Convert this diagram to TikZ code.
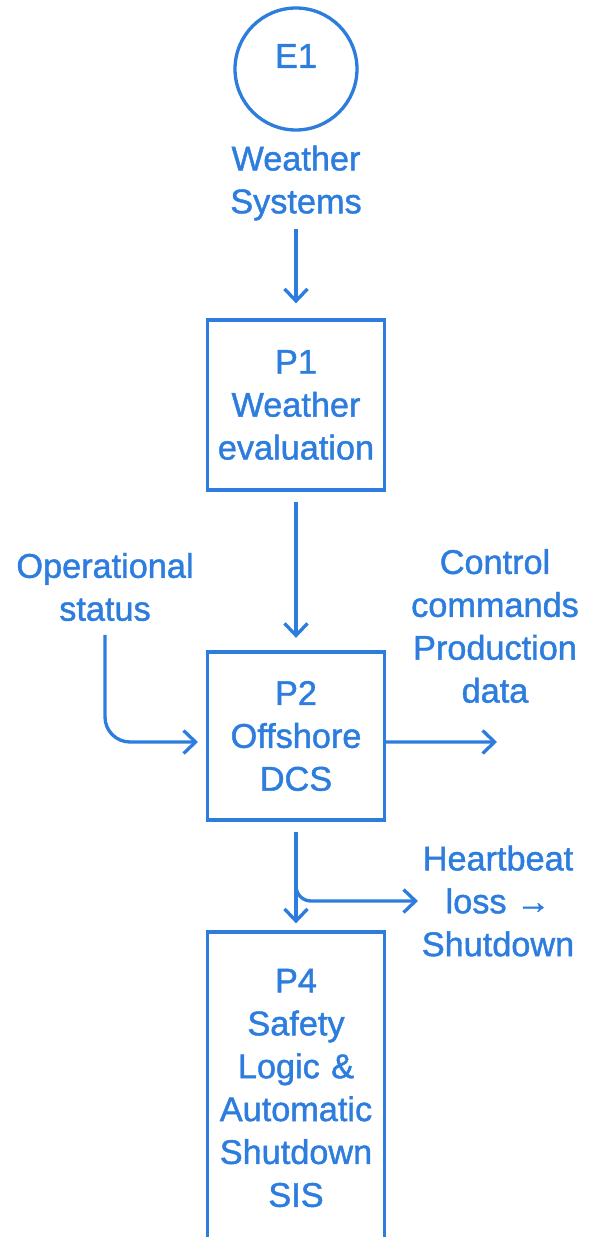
\documentclass[tikz,border=0pt]{standalone}
\usepackage{fontspec}
\setmainfont{Liberation Sans}[FakeBold=1.3]
\usetikzlibrary{arrows.meta}
\usetikzlibrary{shapes}
\definecolor{dfdblue}{RGB}{45,125,222}

\begin{document}
\begin{tikzpicture}[node distance = 2cm, auto, every node/.style={text=dfdblue, font=\fontsize{19.5}{24.4}\selectfont}]
    \tikzstyle{entity}   = [circle, draw=dfdblue, line width=1.9pt, minimum size=2.44cm, inner sep=0pt]
    \tikzstyle{process}  = [rectangle, draw=dfdblue, line width=1.9pt, text width=3.3cm, align=center, minimum width=3.5cm]
    \tikzstyle{flowtext} = [align=center, inner sep=2pt]
    \tikzstyle{line}     = [draw=dfdblue, line width=1.9pt, -{Straight Barb[length=2.4mm,width=4.6mm]}]

    \useasboundingbox (0,0) rectangle (11.88,-24.74);
    \clip (0,0) rectangle (11.88,-24.74);

    % Place nodes
    % External entity:
    \node [entity] (E1) at (5.92,-1.38) {};
    \node [flowtext] (E1id) at ([yshift=0.26cm]E1.center) {E1};
    \node [flowtext, below of=E1, node distance=2.28cm] (E1name) {Weather\\Systems};

    % Processes
    \node [process, below of=E1name, node distance=4.44cm, minimum height=3.4cm] (P1) {P1\\Weather\\evaluation};
    \node [process, below of=P1, node distance=6.62cm, minimum height=3.36cm] (P2) {P2\\Offshore\\DCS};
    \node [process, below of=P2, node distance=7.04cm, minimum height=6.24cm] (P4) {P4\\Safety\\Logic \&\\Automatic\\Shutdown\\SIS};

    % Data flows
    \node [flowtext] (opstatus)  at (2.1,-11.74) {Operational\\status};
    \node [flowtext] (ctrl)      at (9.9,-12.52) {Control\\commands\\Production\\data};
    \node [flowtext] (heartbeat) at (9.96,-18.02) {Heartbeat\\loss →\\Shutdown};
    \coordinate (ctrlend) at (9.94,-14.84);

    \path [line, shorten <=0.1cm, shorten >=0.3cm] (E1name) -- (P1);
    \path [line, shorten <=0.2cm, shorten >=0.25cm] (P1) -- (P2);
    \path [line, rounded corners=0.5cm, shorten <=0.2cm, shorten >=0.16cm] (opstatus.south) |- ([yshift=-0.12cm]P2.west);
    \path [line] ([yshift=-0.12cm]P2.east) -- (ctrlend);
    \path [line, shorten <=0.2cm, shorten >=0.14cm] (P2) -- (P4);
    \path [line, rounded corners=0.3cm] ([yshift=-1.2cm]P2.south) |- (heartbeat.west);
\end{tikzpicture}
\end{document}
